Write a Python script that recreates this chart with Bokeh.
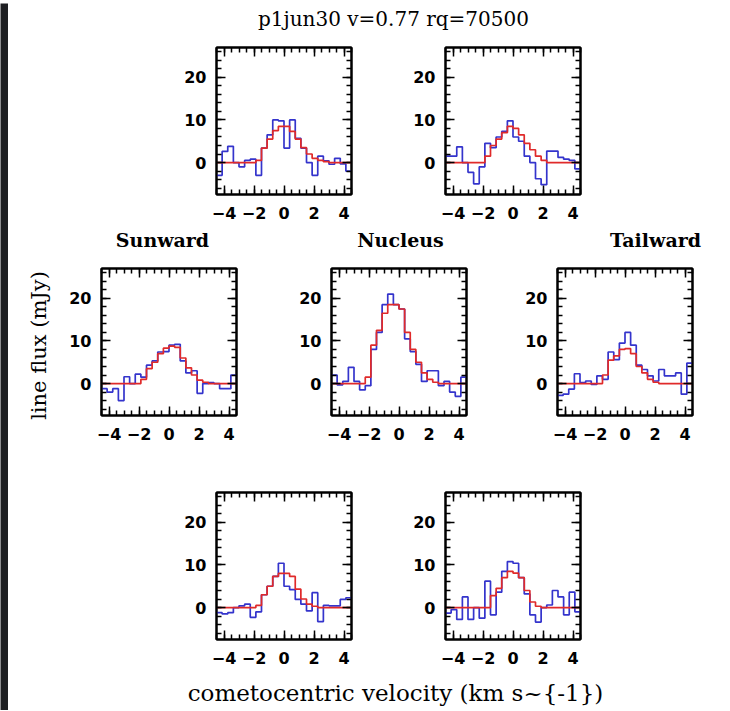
import numpy as np
from bokeh.plotting import figure
from bokeh.layouts import column, row, Spacer
from bokeh.models import LinearAxis, FixedTicker, Range1d
from bokeh.embed import file_html
from bokeh.resources import INLINE
from bokeh.core.properties import value

# ---------------- data ----------------
title_text = "p1jun30 v=0.77 rq=70500"
x_label = "cometocentric velocity (km s~{-1})"
y_label = "line flux (mJy)"
region_labels = ["Sunward", "Nucleus", "Tailward"]

velocity = [-4.3125, -3.9375, -3.5625, -3.1875, -2.8125, -2.4375, -2.0625, -1.6875,
            -1.3125, -0.9375, -0.5625, -0.1875, 0.1875, 0.5625, 0.9375, 1.3125,
            1.6875, 2.0625, 2.4375, 2.8125, 3.1875, 3.5625, 3.9375, 4.3125]

x_ticks = [-4, -2, 0, 2, 4]
x_tick_labels = ["\u22124", "\u22122", "0", "2", "4"]
y_ticks = [0, 10, 20]
y_tick_labels = ["0", "10", "20"]

obs_top_left = [-3, 2.6, 3.8, 0, -1, 0.5, 0.8, -3, 3.4, 6.5, 10, 9.8, 3.4, 10, 5.7, 3.4,
                0, -3, 1.5, 0.4, -0.4, 1, -0.3, -2]
model_top_left = [0, 0, 0, 0, 0, 0, 0, 0.5, 3.4, 5.5, 7.5, 8.5, 8.5, 7.3, 5.5, 3.5,
                  2, 1, 0.5, 0.2, 0, 0, 0, 0]

obs_top_right = [1.5, 1.5, 3.7, 0, -2.3, -5, -1, 4.5, 3.5, 6, 7.3, 9.8, 6, 5, 1.5, 0,
                 -3.8, -5.2, 2.7, 2.7, 1.2, 0.8, 0.5, -1.5]
model_top_right = [0, 0, 0, 0, 0, 0, 0, 1.5, 4, 5.5, 7, 8.5, 8, 6.5, 4.5, 3,
                   1.5, 0.5, 0, 0, 0, 0, 0, 0]

obs_sunward = [-1.2, -2, -1.2, -4, 1.6, 0, 2.2, 1.5, 4.3, 5.3, 7.4, 7.5, 9, 9.2, 5.3, 2.5,
               3, -2.3, 0, 0.2, 0, -1.2, -1.2, 2]
model_sunward = [0, 0, 0, 0, 0, 0, 0, 1, 3.5, 5, 7, 8.3, 8.8, 8.5, 6, 3.7,
                 2, 0.8, 0.3, 0, 0, 0, 0, 0]

obs_nucleus = [2, -0.3, 0.5, 3.8, 0.5, -1.5, -0.5, 8, 12, 18.5, 21, 18.5, 17.5, 10.5, 7.5, 4.5,
               0.5, 3, 3, -0.5, 0.5, -2, -3, 1.5]
model_nucleus = [0, 0, 0, 0, 0, 0, 1.5, 9, 12.5, 16.5, 18.5, 18.5, 17.5, 12, 8, 5,
                 2.5, 1, 0.3, 0, 0, 0, 0, 0]

obs_tailward = [-2.8, -2.5, -1.3, 2.3, 0.2, 0.6, -0.2, 1.8, 1, 7.4, 5.6, 9.5, 12, 9, 4.3, 3.3,
                1.8, 0.6, 3.3, 1.8, 1.8, 2.5, -2.5, 4.8]
model_tailward = [0, 0, 0, 0, 0, 0, 0, 0, 2, 5.5, 6.5, 8, 8.2, 7, 4, 2.5,
                  1, 0.3, 0, 0, 0, 0, 0, 0]

obs_bottom_left = [-1.2, -1.5, -1.2, 0, 0.4, 0.8, -2.3, -1.0, 3.0, 5.0, 7.3, 10.4, 5.0, 4.2, 1.9, 0.8,
                   -0.8, 3.5, -3.3, 0.5, 0.4, 0.4, 1.9, 2.3]
model_bottom_left = [0, 0, 0, 0, 0, 0, 0, 0.5, 3, 5, 7.3, 8, 8, 7.3, 4.3, 2,
                     0.8, 0.3, 0, 0, 0, 0, 0, 0]

obs_bottom_right = [-1.3, -0.5, -2.8, 2.5, -2.8, 0, -2.5, 6.2, -1.7, 3.6, 8.5, 10.8, 10.4, 7.0, 3.2, -1.7,
                    -3.4, 0, 0.6, 4.0, 2.5, -1.7, 3.6, -1.0]
model_bottom_right = [0, 0, 0, 0, 0, 0, 0, 0, 2.8, 4.5, 7, 8.5, 8.1, 7, 4, 1.3,
                      0.3, 0, 0, 0, 0, 0, 0, 0]

# ---------------- style ----------------
BLUE = "#3434cc"
RED = "#e02a2a"
DARK = "#1e1f22"
X_MIN, X_MAX = -4.5, 4.5
Y_MIN, Y_MAX = -7.5, 27
TICK_FONT = "DejaVu Sans"
TEXT_FONT = "DejaVu Serif"

PW, PH = 180, 187
BL_, BR_, BT_, BB_ = 40, 5, 5, 35


def bin_edges(centers):
    c = np.asarray(centers, dtype=float)
    half = (c[1] - c[0]) / 2.0
    return np.append(c - half, c[-1] + half)


def style_axis(ax, ticks, labels, minor, show_labels, standoff):
    ax.ticker = FixedTicker(ticks=ticks, minor_ticks=minor)
    ax.axis_line_color = "black"
    ax.axis_line_width = 2
    ax.major_tick_line_color = "black"
    ax.major_tick_line_width = 1.5
    ax.minor_tick_line_color = "black"
    ax.minor_tick_line_width = 1.5
    ax.major_tick_in = 9
    ax.major_tick_out = 0
    ax.minor_tick_in = 5
    ax.minor_tick_out = 0
    if show_labels:
        ax.major_label_overrides = {t: l for t, l in zip(ticks, labels)}
        ax.major_label_text_font = TICK_FONT
        ax.major_label_text_font_size = "16px"
        ax.major_label_text_font_style = "bold"
        ax.major_label_text_color = "black"
        ax.major_label_standoff = standoff
    else:
        ax.major_label_text_font_size = "0px"
        ax.major_label_text_color = None
        ax.major_label_standoff = 0


def panel(obs, model):
    p = figure(width=PW, height=PH, x_range=Range1d(X_MIN, X_MAX), y_range=Range1d(Y_MIN, Y_MAX),
               output_backend="svg", toolbar_location=None,
               min_border_left=BL_, min_border_right=BR_, min_border_top=BT_, min_border_bottom=BB_)
    p.grid.visible = False
    p.outline_line_color = "black"
    p.outline_line_width = 2
    p.background_fill_color = "white"
    p.border_fill_color = "white"

    edges = bin_edges(velocity)
    obs_ext = list(obs) + [obs[-1]]
    mod_ext = list(model) + [model[-1]]
    p.step(x=edges, y=obs_ext, mode="after", line_color=BLUE, line_width=1.7)
    p.step(x=edges, y=mod_ext, mode="after", line_color=RED, line_width=1.7)

    xminor = list(np.arange(X_MIN, X_MAX + 0.01, 0.5))
    yminor = list(np.arange(-6, Y_MAX, 2))
    style_axis(p.xaxis[0], x_ticks, x_tick_labels, xminor, True, 12)
    style_axis(p.yaxis[0], y_ticks, y_tick_labels, yminor, True, 10)

    top = LinearAxis()
    style_axis(top, x_ticks, x_tick_labels, xminor, False, 0)
    p.add_layout(top, "above")
    right = LinearAxis()
    style_axis(right, y_ticks, y_tick_labels, yminor, False, 0)
    p.add_layout(right, "right")
    return p


def strip(w, h, fill="white"):
    s = figure(width=w, height=h, x_range=Range1d(0, w), y_range=Range1d(0, h),
               x_axis_type=None, y_axis_type=None,
               output_backend="svg", toolbar_location=None, min_border=0)
    s.grid.visible = False
    s.outline_line_color = None
    s.background_fill_color = fill
    s.border_fill_color = fill
    return s


MAIN_W = 714

# title strip
title_strip = strip(MAIN_W, 39)
title_strip.text(x=[385], y=[24], text=[title_text], text_font=value(TEXT_FONT),
                 text_font_size="20px", text_align="center", text_baseline="middle", text_color="black")

# region label strip (to the right of the y-label column)
label_strip = strip(MAIN_W - 53, 34)
label_strip.text(x=[101, 339, 594], y=[24, 24, 24], text=region_labels, text_font=value(TEXT_FONT),
                 text_font_size="19px", text_font_style="bold", text_align="center",
                 text_baseline="middle", text_color="black")

# y label column (spans label strip + middle row)
ylab_strip = strip(53, 34 + PH)
ylab_strip.text(x=[30], y=[105], text=[y_label], text_font=value(TEXT_FONT), angle=np.pi / 2,
                text_font_size="21px", text_align="center", text_baseline="middle", text_color="black")

# x label strip
xlab_strip = strip(MAIN_W, 36)
xlab_strip.text(x=[387], y=[18], text=[x_label], text_font=value(TEXT_FONT),
                text_font_size="23px", text_align="center", text_baseline="middle", text_color="black")

tl = panel(obs_top_left, model_top_left)
tr = panel(obs_top_right, model_top_right)
ml = panel(obs_sunward, model_sunward)
mc = panel(obs_nucleus, model_nucleus)
mr = panel(obs_tailward, model_tailward)
bl = panel(obs_bottom_left, model_bottom_left)
br = panel(obs_bottom_right, model_bottom_right)

row1 = row(Spacer(width=168, height=PH), tl, Spacer(width=49, height=PH), tr)
row2 = row(ml, Spacer(width=50, height=PH), mc, Spacer(width=46, height=PH), mr)
middle = row(ylab_strip, column(label_strip, row2))
row3 = row(Spacer(width=168, height=PH), bl, Spacer(width=49, height=PH), br)

main = column(title_strip, row1, middle, Spacer(width=MAIN_W, height=37), row3, xlab_strip)
main_h = 39 + PH + 34 + PH + 37 + PH + 36

left_dark = strip(8, main_h, DARK)
top_dark = strip(8 + MAIN_W, 3, DARK)

layout = column(top_dark, row(left_dark, main))

open("out.html", "w").write(file_html(layout, INLINE))
